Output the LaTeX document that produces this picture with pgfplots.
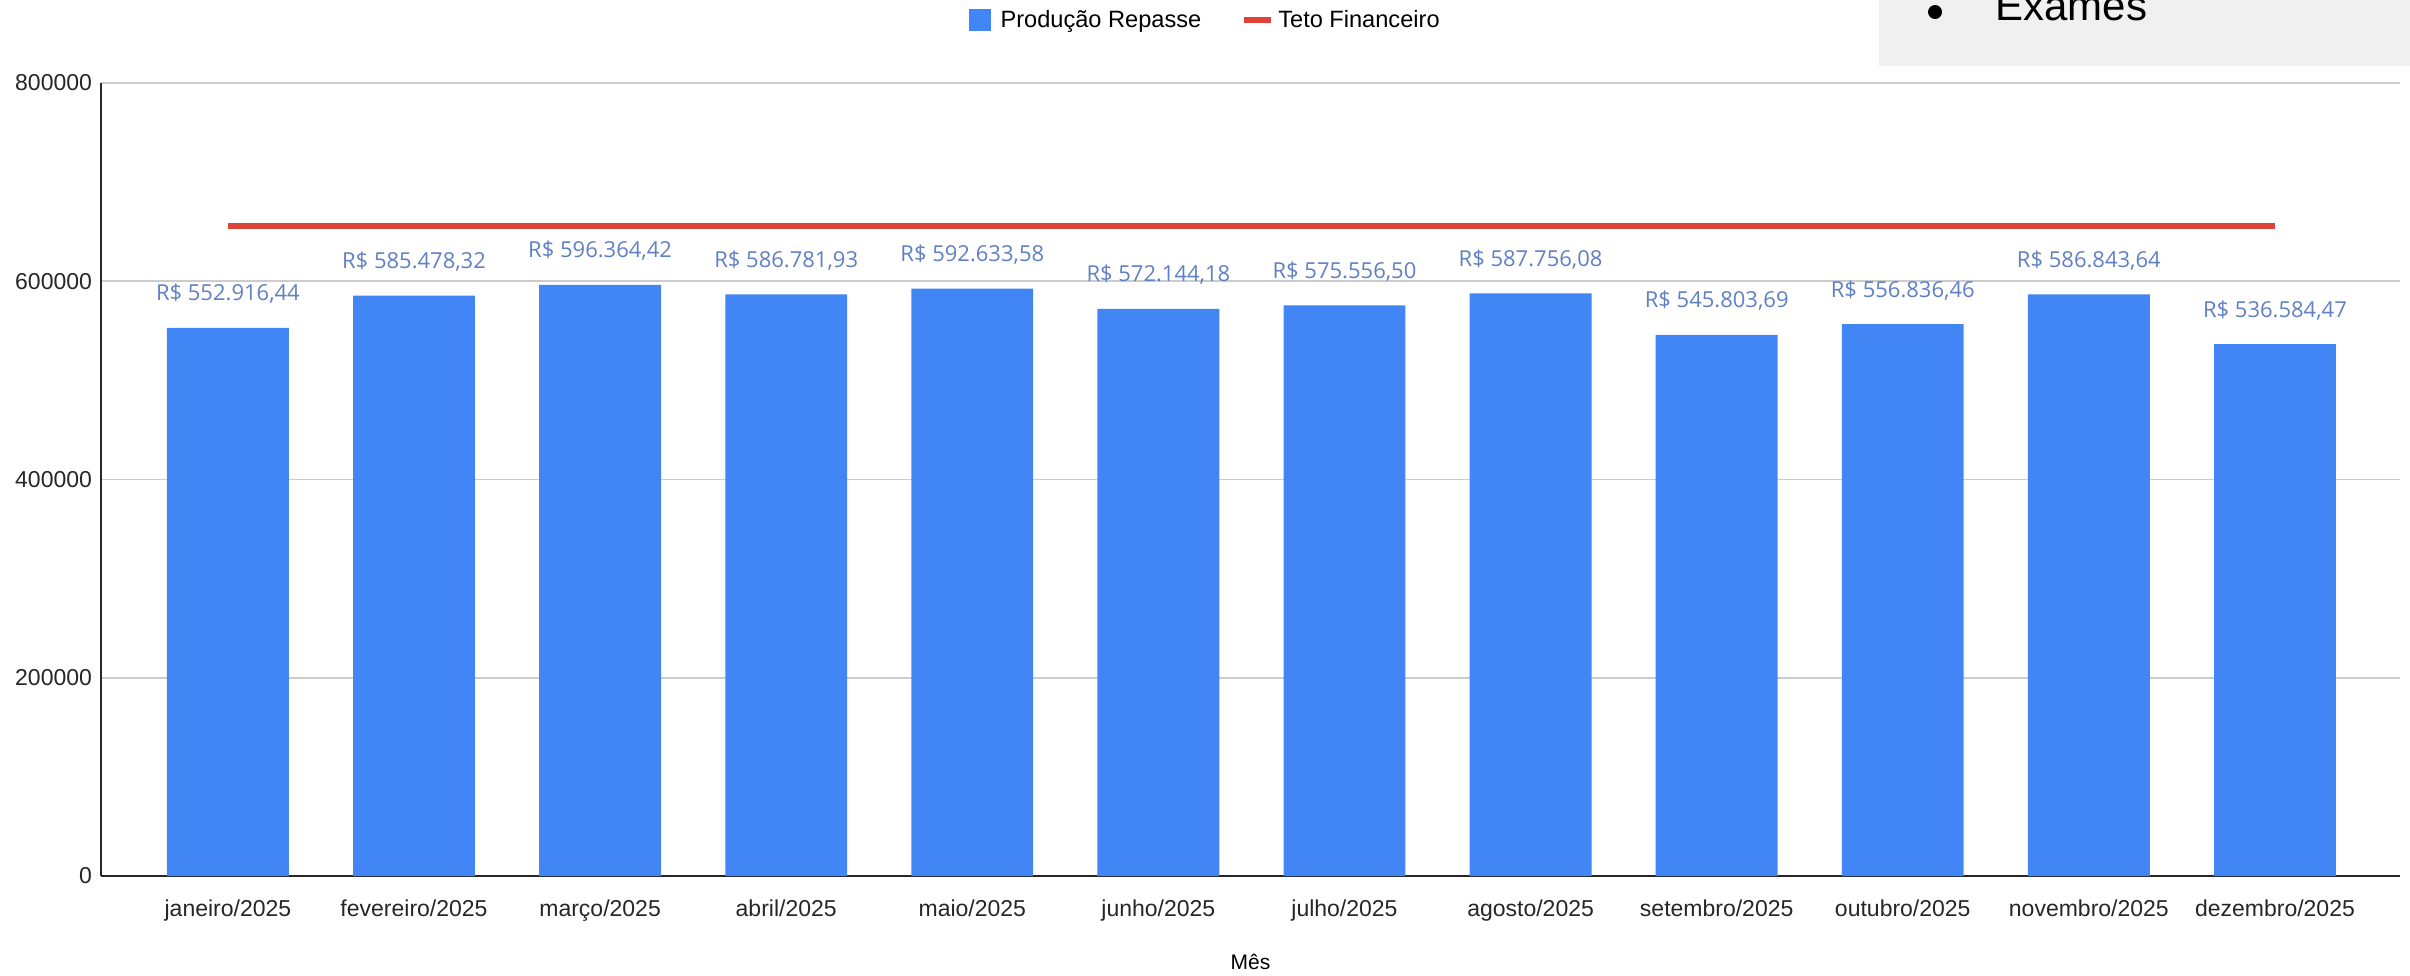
\documentclass[border=0pt]{standalone}
\usepackage{pgfplots}
\pgfplotsset{compat=1.18}
\usepackage{fontspec}
\setmainfont{Liberation Sans}
\newfontfamily\labelfont{Open Sans}
\definecolor{gblue}{RGB}{66,133,244}
\definecolor{gred}{RGB}{219,68,55}
\definecolor{lblue}{RGB}{96,128,196}
\definecolor{gridgrey}{RGB}{204,204,204}
\definecolor{boxgrey}{RGB}{240,240,240}
\begin{document}
\begin{tikzpicture}
\useasboundingbox (0,0) rectangle (1205pt,-487.5pt);
\clip (0,0) rectangle (1205pt,-487.5pt);
\begin{axis}[
 at={(50.5pt,-438pt)}, anchor=south west,
 scale only axis, width=1149.5pt, height=396.5pt,
 xmin=0.318, xmax=12.672, ymin=0, ymax=800000,
 axis x line*=bottom, axis y line*=left,
 axis line style={black!85, line width=0.9pt, -},
 xtick={1,...,12},
 xticklabels={janeiro/2025,fevereiro/2025,março/2025,abril/2025,maio/2025,junho/2025,julho/2025,agosto/2025,setembro/2025,outubro/2025,novembro/2025,dezembro/2025},
 ytick={0,200000,400000,600000,800000},
 yticklabels={0,200000,400000,600000,800000},
 scaled y ticks=false,
 major tick length=0pt,
 ymajorgrids, grid style={gridgrey, line width=0.8pt},
 tick label style={font=\fontsize{11.5}{13}\selectfont, text=black!85},
 xticklabel style={yshift=-8.3pt},
 yticklabel style={xshift=-1pt},
 xlabel={Mês},
 xlabel style={at={(axis description cs:0.5,0)}, anchor=center, yshift=-43pt, font=\fontsize{10.5}{12}\selectfont},
 legend style={at={(axis description cs:0.4807,1.0794)}, anchor=center, draw=none, fill=none, legend columns=2, font=\fontsize{11.8}{13}\selectfont, /tikz/every even column/.append style={column sep=18pt}},
 clip=false,
]
\addplot[ybar, bar width=0.655, fill=gblue, draw=none, bar shift=0pt,
  nodes near coords, point meta=explicit symbolic,
  every node near coord/.append style={font=\labelfont\fontsize{11}{12}\selectfont, text=lblue, anchor=base, yshift=13.5pt},
  legend image code/.code={\fill[gblue] (0pt,-5.5pt) rectangle (11pt,5.5pt);}
] coordinates {
 (1,552916.44) [R\$ 552.916,44]
 (2,585478.32) [R\$ 585.478,32]
 (3,596364.42) [R\$ 596.364,42]
 (4,586781.93) [R\$ 586.781,93]
 (5,592633.58) [R\$ 592.633,58]
 (6,572144.18) [R\$ 572.144,18]
 (7,575556.50) [R\$ 575.556,50]
 (8,587756.08) [R\$ 587.756,08]
 (9,545803.69) [R\$ 545.803,69]
 (10,556836.46) [R\$ 556.836,46]
 (11,586843.64) [R\$ 586.843,64]
 (12,536584.47) [R\$ 536.584,47]
};
\addlegendentry{\hspace{3pt}Produção Repasse}
\addplot[gred, line width=3pt, legend image code/.code={\draw[gred,line width=3pt] (0pt,0pt) -- (13.5pt,0pt);}] coordinates {(1,656000) (12,656000)};
\addlegendentry{Teto Financeiro}
\end{axis}
\fill[boxgrey] (939.5pt,0pt) rectangle (1205pt,-33pt);
\fill[black] (967.5pt,-6pt) circle[radius=3.5pt];
\node[anchor=base west, inner sep=0pt, font=\fontsize{21}{24}\selectfont] at (997.5pt,-10pt) {Exames};
\end{tikzpicture}
\end{document}
